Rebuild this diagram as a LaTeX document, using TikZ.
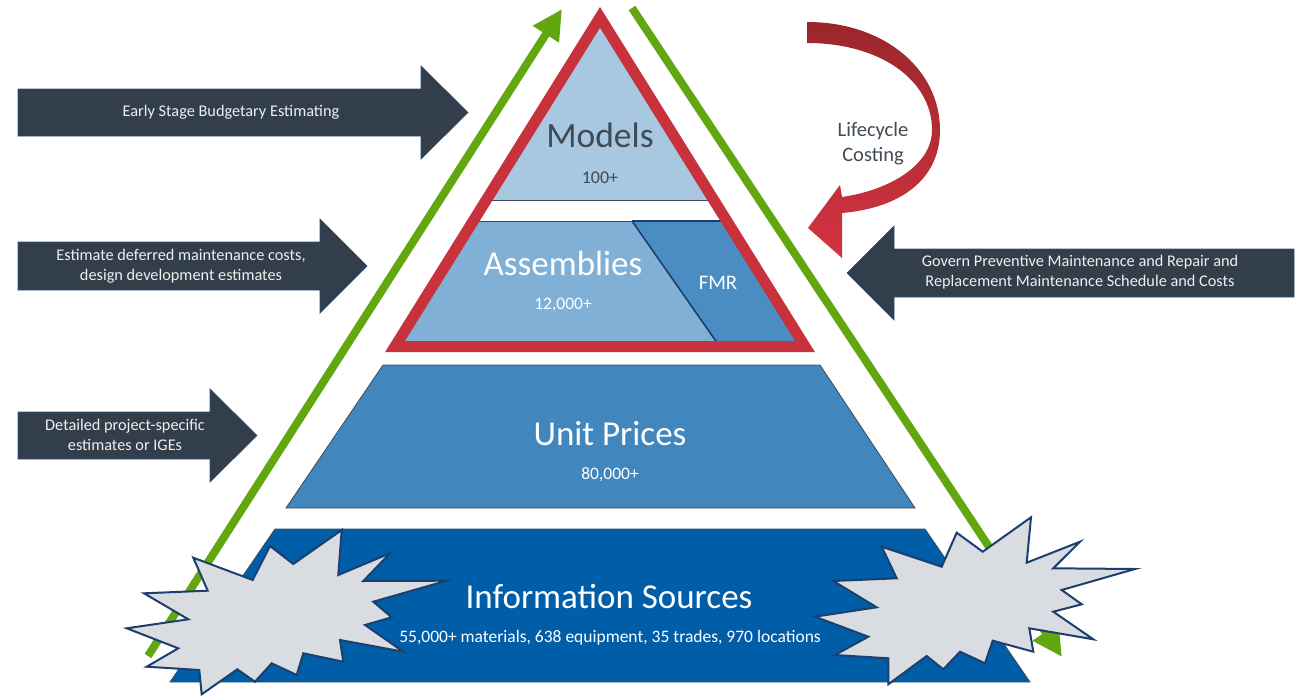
\documentclass[tikz,border=0pt]{standalone}
\usepackage{fontspec}
\setmainfont{Carlito}
\usetikzlibrary{arrows.meta}

\definecolor{leafgreen}{HTML}{62A70F}
\definecolor{framered}{HTML}{C8323C}
\definecolor{modelsblue}{HTML}{A8C8E2}
\definecolor{asmblue}{HTML}{80B0D6}
\definecolor{fmrblue}{HTML}{4B8DC3}
\definecolor{unitblue}{HTML}{4187BE}
\definecolor{infoblue}{HTML}{005DA8}
\definecolor{slate}{HTML}{323E49}
\definecolor{slateedge}{HTML}{2B4F7A}
\definecolor{burstfill}{HTML}{D9DCE1}
\definecolor{burstedge}{HTML}{1B3F6E}
\definecolor{inkgray}{HTML}{3F4A55}
\definecolor{redtop}{HTML}{9B262C}
\definecolor{redbottom}{HTML}{D2343F}

\begin{document}
\begin{tikzpicture}[x=1pt,y=-1pt,
  greenline/.style={draw=leafgreen, line width=8pt, -{Triangle[length=30pt,width=29pt]}},
  tier/.style={line width=0.8pt, draw=inkgray, line join=miter},
  slatearrow/.style={fill=slate, draw=slateedge, line width=0.7pt},
  burst/.style={fill=burstfill, draw=burstedge, line width=2pt, line join=miter},
  arrowtext/.style={text=white!92!slate, font=\fontsize{16.3}{20}\selectfont, align=center},
  bigwhite/.style={text=white, font=\fontsize{35}{40}\selectfont},
  smallwhite/.style={text=white, font=\fontsize{17.5}{20}\selectfont},
]
\useasboundingbox (0,0) rectangle (1302,696);

% green arrows on both flanks
\coordinate (gl0) at (148,656);
\coordinate (gl1) at (562,9);
\coordinate (gr0) at (632,8);
\coordinate (gr1) at (1062,657);
\draw[greenline] (gl0) -- (gl1);
\draw[greenline] (gr0) -- (gr1);

% bottom tier: information sources
\path[tier, fill=infoblue] (275,529) -- (925,529) -- (1030,682) -- (170,682) -- cycle;
% unit prices tier
\path[tier, fill=unitblue] (383,365) -- (820,365) -- (915,508) -- (286,508) -- cycle;

% models tier
\fill[modelsblue] (600,17) -- (714,200) -- (486,200) -- cycle;
\draw[inkgray, line width=0.8pt] (486,200) -- (714,200);
% assemblies tier with FMR share
\fill[asmblue] (473,221) -- (727,221) -- (805,347) -- (395,347) -- cycle;
\fill[fmrblue] (632,221) -- (727,221) -- (805,347) -- (720,347) -- cycle;
\draw[inkgray, line width=0.8pt] (473,221) -- (632,221);
\draw[burstedge, line width=1.2pt] (632,221) -- (727,221);
\draw[burstedge, line width=1.6pt] (632,221) -- (720,347);

% red frame around models and assemblies
\draw[framered, line width=11pt, line join=miter] (600,17.4) -- (805,346.5) -- (395,346.5) -- cycle;

% starbursts
\draw[burst] (193.3,557.7) -- (207.7,590.7) -- (144,593.3) -- (188.3,619.3) -- (126.7,628.3)
  -- (178.3,648.3) -- (146.7,666.7) -- (199.3,670) -- (201.7,694.3) -- (237.3,669.3)
  -- (255,681.7) -- (271.7,663.3) -- (296.7,675) -- (303.3,653.3) -- (343.3,661.7)
  -- (340,640) -- (403.3,651.7) -- (365,625) -- (391.7,617.3) -- (373.3,601.7)
  -- (446.7,580.7) -- (363.3,581) -- (390,553.3) -- (338.3,575) -- (341.7,530)
  -- (293.3,564) -- (270,546) -- (252.7,580) -- cycle;
\draw[burst] (881.7,546.7) -- (896.7,578.3) -- (833.3,581) -- (876.7,607.3) -- (815,616.7)
  -- (868.3,636.7) -- (835,655) -- (888.3,658.3) -- (888.3,684.3) -- (926.7,656)
  -- (943.3,669.3) -- (960,651.7) -- (985,663.3) -- (992.7,640.7) -- (1033.3,651.7)
  -- (1029.3,628.3) -- (1093.3,639.3) -- (1053.3,611.7) -- (1081.7,604.3) -- (1061.7,590)
  -- (1135,569) -- (1053.3,568.3) -- (1080,541.7) -- (1026.7,562.7) -- (1031,517.3)
  -- (982.7,551.7) -- (956.7,532.7) -- (941.7,566.7) -- cycle;

% usage arrows
\draw[slatearrow] (18,89) -- (421,89) -- (421,66) -- (468,112.5) -- (421,159) -- (421,136) -- (18,136) -- cycle;
\draw[slatearrow] (18,242) -- (320,242) -- (320,219) -- (367,266) -- (320,313) -- (320,290) -- (18,290) -- cycle;
\draw[slatearrow] (18,412) -- (210,412) -- (210,389) -- (257,435.5) -- (210,482) -- (210,459) -- (18,459) -- cycle;
\draw[slatearrow] (1294,249) -- (894,249) -- (894,226) -- (847,273) -- (894,320) -- (894,297) -- (1294,297) -- cycle;

\node[arrowtext] (early) at (231,112) {Early Stage Budgetary Estimating};
\node[arrowtext] (deferred) at (181,266) {Estimate deferred maintenance costs,\\design development estimates};
\node[arrowtext] (detailed) at (125,435) {Detailed project-specific\\estimates or IGEs};
\node[arrowtext] (govern) at (1080,272) {Govern Preventive Maintenance and Repair and\\Replacement Maintenance Schedule and Costs};

% lifecycle costing loop arrow
\shade[top color=redtop, bottom color=redbottom]
  (807,22) .. controls (885,22) and (940,70) .. (940,130)
  .. controls (940,180) and (900,208) .. (842,213)
  -- (842,258) -- (808,228) -- (840,185) -- (842,197)
  .. controls (890,190) and (932,165) .. (932,130)
  .. controls (932,80) and (880,43) .. (807,43) -- cycle;
\node[text=inkgray, font=\fontsize{20.5}{25}\selectfont, align=center] (lifecycle) at (873,144) {Lifecycle\\Costing};

% tier labels
\node[text=inkgray, font=\fontsize{35.5}{40}\selectfont] (models) at (600,135) {Models};
\node[text=inkgray, font=\fontsize{18}{20}\selectfont] (modelsn) at (600,178) {100+};
\node[bigwhite] (asm) at (563,263) {Assemblies};
\node[smallwhite] (asmn) at (563,305) {12,000+};
\node[text=white, font=\fontsize{20.7}{24}\selectfont] (fmr) at (718,283) {FMR};
\node[bigwhite] (unit) at (610,434) {Unit Prices};
\node[smallwhite] (unitn) at (610,475) {80,000+};
\node[bigwhite] (info) at (609,597) {Information Sources};
\node[smallwhite] (infon) at (610,638) {55,000+ materials, 638 equipment, 35 trades, 970 locations};
\end{tikzpicture}
\end{document}
